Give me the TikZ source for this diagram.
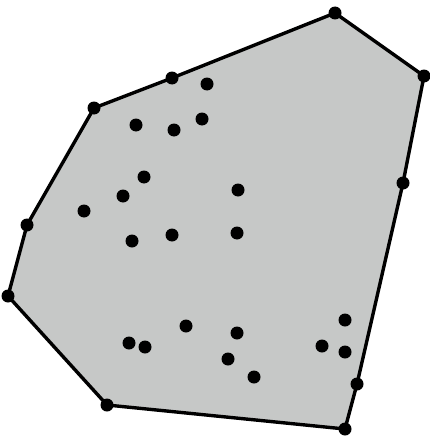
\documentclass[tikz,border=0pt]{standalone}
\definecolor{hullgray}{RGB}{198,200,199}
\begin{document}
\begin{tikzpicture}[x=1pt,y=-1pt,
  dot/.style={circle,fill=black,inner sep=0pt,minimum size=13pt},
  hull/.style={draw=black,fill=hullgray,line width=3.4pt,line join=round}]
\useasboundingbox (0,0) rectangle (430,436);
% hull vertices
\coordinate (h1) at (335,13);
\coordinate (h2) at (424,76);
\coordinate (h3) at (403,183);
\coordinate (h4) at (357,384);
\coordinate (h5) at (345,429);
\coordinate (h6) at (107,405);
\coordinate (h7) at (8,296);
\coordinate (h8) at (27,225);
\coordinate (h9) at (94,108);
\coordinate (h10) at (172,78);
\draw[hull] (h1) -- (h2) -- (h3) -- (h4) -- (h5) -- (h6) -- (h7) -- (h8) -- (h9) -- (h10) -- cycle;
\foreach \i in {1,...,10} \node[dot] (v\i) at (h\i) {};
% interior points
\foreach \x/\y [count=\k] in {207/84,136/125,174/130,202/119,144/177,123/196,84/211,238/190,172/235,132/241,237/233,186/326,129/343,145/347,237/333,228/359,254/377,322/346,345/320,345/352}
  \node[dot] (p\k) at (\x,\y) {};
\end{tikzpicture}
\end{document}
